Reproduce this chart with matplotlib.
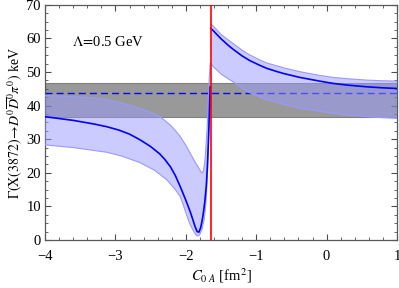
import numpy as np
import matplotlib
matplotlib.use('Agg')
import matplotlib.pyplot as plt
from matplotlib.ticker import MultipleLocator

plt.rcParams['font.family'] = ['Liberation Serif', 'DejaVu Serif']
plt.rcParams['mathtext.fontset'] = 'stix'

# left branch (C_0A < pole)
c_mid_l = [-4.0, -3.6, -3.3, -3.12, -2.95, -2.8, -2.65, -2.5, -2.37, -2.3, -2.22, -2.15, -2.08,
           -2.0, -1.94, -1.9, -1.87, -1.84, -1.815, -1.79, -1.77, -1.75, -1.73, -1.71, -1.695,
           -1.68, -1.665, -1.655]
v_mid_l = [36.7, 35.6, 34.5, 33.7, 32.7, 31.5, 29.8, 27.8, 25.6, 24.0, 21.8, 19.2, 15.9,
           11.8, 8.5, 6.0, 4.0, 2.5, 2.3, 3.6, 5.6, 8.2, 11.5, 16.0, 21.5,
           29.0, 38.5, 45.5]

c_up_l = [-4.0, -3.6, -3.3, -3.12, -2.9, -2.75, -2.65, -2.5, -2.37, -2.3, -2.22, -2.15, -2.08,
          -2.0, -1.94, -1.88, -1.83, -1.80, -1.78, -1.765, -1.75, -1.735, -1.72, -1.70,
          -1.69, -1.68, -1.665, -1.655]
v_up_l = [43.0, 42.7, 42.3, 41.8, 40.7, 39.8, 39.1, 38.0, 36.7, 35.6, 34.2, 32.6, 30.8,
          28.2, 25.9, 23.6, 21.9, 20.8, 20.1, 20.0, 20.6, 22.5, 26.0, 32.5,
          37.0, 42.5, 49.0, 52.5]

c_lo_l = [-4.0, -3.6, -3.36, -3.12, -2.9, -2.65, -2.45, -2.27, -2.15, -2.08, -2.03, -1.99,
          -1.94, -1.89, -1.86, -1.84, -1.82, -1.80, -1.77, -1.74, -1.71, -1.69, -1.67, -1.655]
v_lo_l = [28.3, 27.5, 26.8, 26.1, 24.9, 23.0, 20.8, 17.9, 15.0, 12.9, 10.0, 7.4,
          4.6, 2.6, 1.6, 1.2, 1.2, 1.7, 3.2, 6.0, 12.0, 21.0, 34.0, 44.0]

# right branch (C_0A > pole)
c_mid_r = [-1.645, -1.61, -1.5, -1.4, -1.33, -1.2, -1.1, -0.95, -0.85, -0.7, -0.6, -0.38, -0.1,
           0.095, 0.3, 0.57, 0.8, 1.0]
v_mid_r = [63.0, 62.3, 59.9, 58.0, 56.8, 54.8, 53.5, 52.0, 51.1, 50.1, 49.5, 48.4, 47.3,
           46.6, 46.1, 45.6, 45.3, 45.1]

c_up_r = [-1.645, -1.61, -1.5, -1.4, -1.33, -1.2, -1.1, -0.95, -0.85, -0.7, -0.6, -0.38, -0.1,
          0.095, 0.3, 0.57, 0.8, 1.0]
v_up_r = [64.3, 63.7, 61.2, 59.6, 58.5, 56.5, 55.2, 53.6, 52.7, 51.8, 51.2, 50.1, 49.0,
          48.4, 48.0, 47.6, 47.4, 47.3]

c_lo_r = [-1.645, -1.61, -1.5, -1.4, -1.33, -1.2, -1.09, -0.95, -0.85, -0.7, -0.6, -0.38, -0.1,
          0.095, 0.3, 0.57, 0.8, 1.0]
v_lo_r = [52.5, 51.6, 49.4, 48.0, 47.1, 45.2, 43.8, 42.6, 41.8, 40.9, 40.3, 39.2, 38.3,
          37.7, 37.2, 36.7, 36.4, 36.2]

# experimental value and band
exp_val = 43.9
exp_lo, exp_hi = 36.7, 46.6
pole = -1.645

fig = plt.figure(figsize=(3.99, 2.88), dpi=100)
ax = fig.add_axes([0.113, 0.167, 0.882, 0.816])

ax.axhspan(exp_lo, exp_hi, color='0.6', zorder=1, lw=0)
ax.axhline(exp_lo, color='0.5', lw=0.8, zorder=1)
ax.axhline(exp_hi, color='0.5', lw=0.8, zorder=1)
ax.axhline(exp_val, color='blue', lw=1.0, ls=(0, (5, 3)), zorder=2)

band = (0.6, 0.6, 1.0)
ax.fill(np.r_[c_up_l, c_lo_l[::-1]], np.r_[v_up_l, v_lo_l[::-1]], color=band, alpha=0.5, lw=0, zorder=3)
ax.fill(np.r_[c_up_r, c_lo_r[::-1]], np.r_[v_up_r, v_lo_r[::-1]], color=band, alpha=0.5, lw=0, zorder=3)
for c, v in [(c_up_l, v_up_l), (c_lo_l, v_lo_l), (c_up_r, v_up_r), (c_lo_r, v_lo_r)]:
    ax.plot(c, v, color=band, lw=0.8, zorder=4)

ax.plot(c_mid_l, v_mid_l, color='blue', lw=1.2, zorder=5)
ax.plot(c_mid_r, v_mid_r, color='blue', lw=1.2, zorder=5)
ax.axvline(pole, color='red', lw=1.2, zorder=6)

ax.text(-3.62, 59, r'$\Lambda\!=\!$0.5 GeV', fontsize=10.5, va='center')

ax.set_xlim(-4, 1)
ax.set_ylim(0, 70)
ax.xaxis.set_major_locator(MultipleLocator(1))
ax.xaxis.set_minor_locator(MultipleLocator(0.2))
ax.yaxis.set_major_locator(MultipleLocator(10))
ax.yaxis.set_minor_locator(MultipleLocator(2.5))
ax.tick_params(which='both', direction='in', top=True, right=True, color='0.3', labelsize=10.5)
ax.tick_params(axis='x', pad=7)
ax.tick_params(axis='y', pad=3)
ax.tick_params(which='major', length=4, width=0.8)
ax.tick_params(which='minor', length=2, width=0.6)
for s in ax.spines.values():
    s.set_color('0.35')
    s.set_linewidth(0.9)

ax.set_xlabel(r'$C_{0\ A}$ [fm$^2$]', fontsize=10.5, labelpad=3)
ax.set_ylabel(r'$\Gamma(\mathrm{X}(3872)\!\rightarrow\! D^0\overline{D}^0\pi^0)$ keV', fontsize=10, labelpad=2)

fig.savefig('out.png', dpi=100)
